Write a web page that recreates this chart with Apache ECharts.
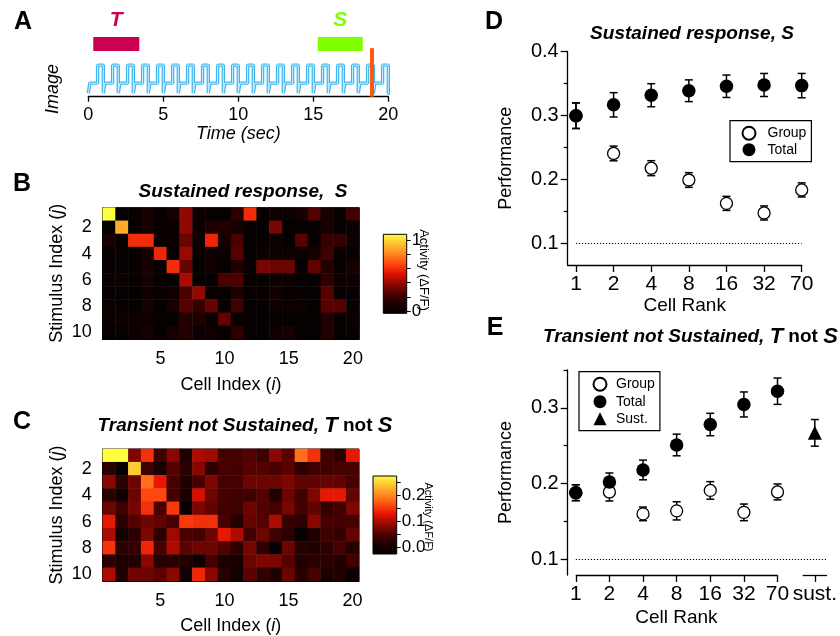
<!DOCTYPE html>
<html>
<head>
<meta charset="utf-8">
<title>Stimulus responses</title>
<script src="https://cdn.jsdelivr.net/npm/echarts@6/dist/echarts.min.js"></script>
<style>
  html, body { margin: 0; background: #fff; }
  #chart { width: 840px; height: 636px; }
</style>
</head>
<body>
<div id="chart"></div>
<script>
const FONT = 'Liberation Sans, Arial, Helvetica, sans-serif';

// ---- panel A: stimulus protocol ----
const imageOnsets = [0, 1, 2, 3, 4, 5, 6, 7, 8, 9, 10, 11, 12, 13, 14, 15, 16, 17, 18, 19];
const stepOffsets = [0, 0.1, 0.62];
const stepLevels = [0.1, 0.39, 0.91];
const traceEnd = [20, 20.1];
const transientWin = [0.33, 3.4];
const sustainedWin = [15.3, 18.3];
const winBand = [1.32, 1.72];
const probeTime = 18.9;
const probeSpan = [0, 1.4];

// ---- panels B, C: response maps (rows = stimulus 1..10, cols = cell 1..20) ----
const cellIndex = ['1','2','3','4','5','6','7','8','9','10','11','12','13','14','15','16','17','18','19','20'];
const stimIndex = ['1','2','3','4','5','6','7','8','9','10'];
const sustainedMap = [
  [1.08,0,0,0.08,0,0.08,0.39,0.04,0,0,0.16,0.60,0,0.03,0.03,0.08,0.26,0.08,0,0.21],
  [0,0.89,0,0.08,0,0,0.39,0.04,0.13,0.13,0.08,0,0,0.34,0,0,0,0.08,0,0.03],
  [0.08,0,0.60,0.60,0,0.03,0.31,0.03,0.58,0.08,0.25,0,0,0.04,0,0.27,0,0.18,0.19,0.04],
  [0,0,0,0.08,0.58,0,0.40,0.03,0.03,0.03,0.27,0,0.03,0.03,0.03,0.03,0.08,0.21,0,0],
  [0,0,0,0.08,0,0.60,0.30,0,0.04,0,0.13,0,0.34,0.31,0.31,0,0.29,0.13,0,0.08],
  [0.03,0.03,0,0.08,0,0,0.43,0,0,0.25,0.25,0,0,0.04,0.04,0,0,0.16,0.04,0.04],
  [0,0,0,0.03,0,0.04,0.25,0.39,0,0,0.13,0,0,0.06,0,0,0,0.27,0,0],
  [0.03,0,0,0.08,0,0.09,0.27,0.18,0.30,0,0.21,0,0,0.04,0.03,0.03,0,0.27,0.27,0],
  [0.03,0.03,0.04,0.04,0,0,0.13,0.13,0,0.29,0,0,0,0,0,0,0,0.13,0,0.03],
  [0,0,0.03,0.08,0,0.08,0.13,0.04,0.04,0,0.16,0,0,0.04,0.08,0,0,0.13,0,0]
];
const transientMap = [
  [0.272,0.272,0.077,0.145,0.041,0.083,0.017,0.10,0.094,0.047,0.047,0.053,0.041,0.083,0.059,0.183,0.145,0.041,0.026,0.13],
  [0.026,-0.015,0.242,0.041,0.012,0.056,0.026,0.083,0.026,0.047,0.044,0.056,0.056,0.047,0.059,0.026,0.041,0.041,0.047,0.047],
  [0.083,0.026,0.068,0.183,0.13,0.047,0.017,0.047,0.077,0.047,0.047,0.068,0.068,0.068,0.077,0.062,0.062,0.065,0.062,0.047],
  [0.026,0.003,0.068,0.16,0.16,0.047,0.012,0.118,0.068,0.047,0.041,0.041,0.056,0.017,0.068,0.041,0.077,0.13,0.13,0.062],
  [0.068,0.041,0.074,0.145,0.047,0.151,-0.015,0.077,0.062,0.044,0.041,0.068,0.053,0.047,0.074,0.044,0.062,0.032,0.041,0.077],
  [0.13,0.026,0.056,0.068,0.062,0.047,0.151,0.145,0.145,0.047,0.017,0.065,0.056,0.10,0.032,0.026,0.083,0.047,0.044,0.047],
  [0.10,0.003,0.026,0.077,0.026,0.094,0.047,0.047,0.068,0.13,0.10,0.041,0.068,0.041,0.026,-0.015,0.017,0.041,0.032,0.062],
  [0.145,0.026,0.032,0.139,0.047,0.10,0.059,0.068,0.068,0.053,0.026,0.074,0.026,-0.015,0.068,0.022,0.017,0.026,0.047,0.022],
  [0.026,0.012,0.017,0.083,0.022,0.022,0.017,-0.006,0.047,0.012,0.012,0.068,0.077,0.077,0.056,0.017,0.026,0.026,0.017,0.041],
  [0.10,0.017,0.068,0.068,0.059,0.083,0.003,0.139,0.083,0.022,0.003,0.059,0.032,0.017,0.068,0.022,0.047,0.012,0.017,-0.006]
];
const sustainedRange = [-0.03, 1.08];
const transientRange = [-0.024, 0.272];
const sustainedBarTicks = [0, 0.2, 0.4, 0.6, 0.8, 1];
const sustainedBarLabels = [0, 1];
const transientBarTicks = [0, 0.05, 0.1, 0.15, 0.2, 0.25];
const transientBarLabels = [0, 0.1, 0.2];
const hotColors = ['#000000', '#1c0000', '#4a0000', '#900800', '#e01000', '#ff4810', '#ff8820', '#ffc030', '#ffff40'];

// ---- panels D, E: decoding performance vs cell rank ----
const rankLabels = ['1', '2', '4', '8', '16', '32', '70'];
const dGroupMean = [0.300, 0.241, 0.218, 0.1995, 0.163, 0.148, 0.184];
const dGroupErr  = [0.020, 0.0115, 0.0117, 0.0115, 0.011, 0.011, 0.011];
const dTotalMean = [0.300, 0.317, 0.332, 0.339, 0.346, 0.348, 0.347];
const dTotalErr  = [0.020, 0.019, 0.018, 0.017, 0.0175, 0.018, 0.019];
const eGroupMean = [0.188, 0.189, 0.160, 0.164, 0.191, 0.162, 0.189];
const eGroupErr  = [0.0105, 0.012, 0.009, 0.012, 0.0116, 0.011, 0.0105];
const eTotalMean = [0.188, 0.202, 0.218, 0.251, 0.278, 0.3045, 0.322];
const eTotalErr  = [0.0105, 0.012, 0.013, 0.0143, 0.0148, 0.0165, 0.0174];
const sustLabel = 'sust.';
const sustPos = [7.11];
const sustMean = [0.267];
const sustErr = [0.0176];
const chanceLevel = 0.1;
const dRange = [0.0667, 0.4];
const eRange = [0.0793, 0.35];
const dXRange = [-0.22, 6];
const eXRange = [-0.241, 7.475];
const eSustSegment = [6.75, 7.475];
const dMajor = [0.1, 0.2, 0.3, 0.4];
const dMinor = [0.15, 0.25, 0.35];
const eMajor = [0.1, 0.2, 0.3];
const eMinor = [0.15, 0.25, 0.35];

// ---- build series data ----
const traceData = [];
imageOnsets.forEach(t0 => stepOffsets.forEach((o, i) => traceData.push([t0 + o, stepLevels[i]])));
traceEnd.forEach(t => traceData.push([t, stepLevels[0]]));

const toCells = m => {
  const out = [];
  m.forEach((row, r) => row.forEach((v, c) => out.push([c, r, v])));
  return out;
};
const rankPos = rankLabels.map((_, i) => i);
const pts = (pos, mean) => mean.map((m, i) => [pos[i], m]);
const bars = (pos, mean, err) => mean.map((m, i) => [pos[i], m - err[i], m + err[i]]);
const hotStops = hotColors.map((c, i) => ({ offset: i / (hotColors.length - 1), color: c }));

const black = { color: '#000' };
const rankFmt = v => (v > 6.5 ? sustLabel : rankLabels[Math.round(v)]);

function errorBar(params, api) {
  const x = api.value(0);
  const hi = api.coord([x, api.value(2)]);
  const lo = api.coord([x, api.value(1)]);
  const w = 4;
  const st = { stroke: '#000', lineWidth: 1.5 };
  return {
    type: 'group',
    children: [
      { type: 'line', shape: { x1: hi[0], y1: hi[1], x2: lo[0], y2: lo[1] }, style: st },
      { type: 'line', shape: { x1: hi[0] - w, y1: hi[1], x2: hi[0] + w, y2: hi[1] }, style: st },
      { type: 'line', shape: { x1: lo[0] - w, y1: lo[1], x2: lo[0] + w, y2: lo[1] }, style: st }
    ]
  };
}

function colorBar(params, api) {
  const cs = params.coordSys;
  const top = api.coord([0.5, api.value(2)]);
  const bot = api.coord([0.5, api.value(1)]);
  return {
    type: 'rect',
    shape: { x: cs.x, y: top[1], width: cs.width, height: bot[1] - top[1] },
    style: { fill: new echarts.graphic.LinearGradient(0, 1, 0, 0, hotStops), stroke: '#000', lineWidth: 1 }
  };
}

const nameStyle = (size) => ({
  color: '#000', fontSize: size, fontFamily: FONT,
  rich: { i: { fontStyle: 'italic', fontSize: size, fontFamily: FONT, color: '#000' } }
});

function heatX(grid, gap) {
  return {
    gridIndex: grid, type: 'category', data: cellIndex,
    axisLine: { lineStyle: { color: '#000', width: 1 } },
    axisTick: { alignWithLabel: true, length: 5, interval: i => (i + 1) % 5 === 0, lineStyle: black },
    axisLabel: { interval: i => (i + 1) % 5 === 0, color: '#000', fontSize: 18, fontFamily: FONT, margin: 11 },
    splitLine: { show: false },
    name: 'Cell Index ({i|i})', nameLocation: 'middle', nameGap: gap, nameTextStyle: nameStyle(18)
  };
}
function heatY(grid) {
  return {
    gridIndex: grid, type: 'category', data: stimIndex, inverse: true,
    axisLine: { lineStyle: { color: '#000', width: 1 } },
    axisTick: { alignWithLabel: true, length: 5, interval: i => (i + 1) % 2 === 0, lineStyle: black },
    axisLabel: { interval: i => (i + 1) % 2 === 0, color: '#000', fontSize: 18, fontFamily: FONT, margin: 11 },
    splitLine: { show: false },
    name: 'Stimulus Index ({i|j})', nameLocation: 'middle', nameGap: 37, nameTextStyle: nameStyle(18)
  };
}
function barY(grid, range, ticks, labels, fmt) {
  return {
    gridIndex: grid, type: 'value', position: 'right', min: range[0], max: range[1],
    axisLine: { show: false, onZero: false },
    axisTick: { show: true, customValues: ticks, length: 4, lineStyle: black },
    axisLabel: { customValues: labels, formatter: fmt, color: '#000', fontSize: 17, fontFamily: FONT, margin: 5 },
    splitLine: { show: false }
  };
}
function perfY(grid, range, major, gap) {
  return {
    gridIndex: grid, type: 'value', position: 'left', min: range[0], max: range[1],
    axisLine: { show: true, onZero: false, lineStyle: { color: '#000', width: 1.3 } },
    axisTick: { show: true, customValues: major, length: 7, lineStyle: { color: '#000', width: 1.3 } },
    axisLabel: { customValues: major, formatter: v => v.toFixed(1), color: '#000', fontSize: 20, fontFamily: FONT, margin: 9 },
    splitLine: { show: false },
    name: 'Performance', nameLocation: 'middle', nameGap: gap, nameTextStyle: nameStyle(18)
  };
}
function minorY(grid, range, minor) {
  return {
    gridIndex: grid, type: 'value', position: 'left', min: range[0], max: range[1],
    axisLine: { show: false, onZero: false }, axisLabel: { show: false }, splitLine: { show: false },
    axisTick: { show: true, customValues: minor, length: 4, lineStyle: { color: '#000', width: 1.3 } }
  };
}

const legendBase = {
  orient: 'vertical', itemWidth: 13, itemHeight: 13, selectedMode: false,
  borderColor: '#000', borderWidth: 1.2, backgroundColor: '#fff', borderRadius: 0
};

const option = {
  animation: false,
  textStyle: { fontFamily: FONT },
  grid: [
    { left: 88.3, top: 10, width: 300, height: 86.7 },
    { left: 102.7, top: 207.7, width: 256.6, height: 131.3, show: true, borderColor: '#000', borderWidth: 1 },
    { left: 383.3, top: 234.3, width: 23.4, height: 79 },
    { left: 102.7, top: 449, width: 256.3, height: 132, show: true, borderColor: '#000', borderWidth: 1 },
    { left: 373, top: 476, width: 23.7, height: 78 },
    { left: 567.7, top: 51.7, width: 234, height: 213.3 },
    { left: 567.7, top: 370, width: 265.3, height: 205 }
  ],
  xAxis: [
    {
      gridIndex: 0, type: 'value', min: 0, max: 20, interval: 5,
      axisLine: { lineStyle: { color: '#000', width: 1.3 } },
      axisTick: { length: 5, lineStyle: { color: '#000', width: 1.3 } },
      axisLabel: { color: '#000', fontSize: 18, fontFamily: FONT, margin: 9 },
      splitLine: { show: false },
      name: 'Time (sec)', nameLocation: 'middle', nameGap: 26,
      nameTextStyle: { color: '#000', fontSize: 18, fontStyle: 'italic', fontFamily: FONT }
    },
    heatX(1, 37),
    { gridIndex: 2, type: 'value', min: 0, max: 1, show: false },
    heatX(3, 36),
    { gridIndex: 4, type: 'value', min: 0, max: 1, show: false },
    {
      gridIndex: 5, type: 'value', min: dXRange[0], max: dXRange[1],
      axisLine: { show: true, onZero: false, lineStyle: { color: '#000', width: 1.3 } },
      axisTick: { show: true, customValues: rankPos, length: 7, lineStyle: { color: '#000', width: 1.3 } },
      axisLabel: { customValues: rankPos, formatter: rankFmt, color: '#000', fontSize: 21, fontFamily: FONT, margin: 9 },
      splitLine: { show: false },
      name: 'Cell Rank', nameLocation: 'middle', nameGap: 31, nameTextStyle: nameStyle(19)
    },
    {
      gridIndex: 6, type: 'value', min: eXRange[0], max: eXRange[1],
      axisLine: { show: false, onZero: false },
      axisTick: { show: true, customValues: rankPos.concat(sustPos), length: 7, lineStyle: { color: '#000', width: 1.3 } },
      axisLabel: { customValues: rankPos.concat(sustPos), formatter: rankFmt, color: '#000', fontSize: 21, fontFamily: FONT, margin: 9 },
      splitLine: { show: false },
      name: 'Cell Rank', nameLocation: 'middle', nameGap: 33,
      nameTextStyle: Object.assign(nameStyle(19), { padding: [0, 42, 0, 0] })
    }
  ],
  yAxis: [
    { gridIndex: 0, type: 'value', min: 0, max: 2.5, show: false },
    heatY(1),
    barY(2, sustainedRange, sustainedBarTicks, sustainedBarLabels, v => String(Math.round(v))),
    heatY(3),
    barY(4, transientRange, transientBarTicks, transientBarLabels, v => v.toFixed(1)),
    perfY(5, dRange, dMajor, 53),
    minorY(5, dRange, dMinor),
    perfY(6, eRange, eMajor, 53),
    minorY(6, eRange, eMinor)
  ],
  visualMap: [
    { type: 'continuous', show: false, seriesIndex: 2, dimension: 2, min: sustainedRange[0], max: sustainedRange[1], inRange: { color: hotColors } },
    { type: 'continuous', show: false, seriesIndex: 4, dimension: 2, min: transientRange[0], max: transientRange[1], inRange: { color: hotColors } }
  ],
  legend: [
    Object.assign({}, legendBase, {
      left: 730, top: 120.7, padding: [5, 5, 5, 11.5], itemGap: 2,
      textStyle: { fontSize: 14, fontFamily: FONT, color: '#000', padding: [0, 0, 0, 7] },
      data: ['Group', 'Total']
    }),
    Object.assign({}, legendBase, {
      left: 579, top: 371.7, padding: [5, 5, 5, 13.5], itemGap: 3,
      textStyle: { fontSize: 14, fontFamily: FONT, color: '#000', padding: [0, 0, 0, 4.5] },
      data: ['Group', 'Total', 'Sust.']
    })
  ],
  series: [
    {
      type: 'line', xAxisIndex: 0, yAxisIndex: 0, data: traceData, step: 'end', symbol: 'none', clip: false,
      lineStyle: { color: '#3cb6f0', width: 3.4 },
      markArea: {
        silent: true,
        label: { show: true, position: 'top', distance: 6, fontSize: 21, fontWeight: 'bold', fontStyle: 'italic', fontFamily: FONT },
        data: [
          [{ name: 'T', coord: [transientWin[0], winBand[0]], itemStyle: { color: '#cc0052' }, label: { color: '#cc0052' } },
           { coord: [transientWin[1], winBand[1]] }],
          [{ name: 'S', coord: [sustainedWin[0], winBand[0]], itemStyle: { color: '#80ff00' }, label: { color: '#80ff00' } },
           { coord: [sustainedWin[1], winBand[1]] }]
        ]
      }
    },
    {
      type: 'line', xAxisIndex: 0, yAxisIndex: 0, data: traceData, step: 'end', symbol: 'none', clip: false,
      lineStyle: { color: '#d2f0fd', width: 1 },
      markLine: {
        silent: true, symbol: ['none', 'none'], label: { show: false },
        lineStyle: { color: '#ff5a0a', width: 4, type: 'solid' },
        data: [[{ coord: [probeTime, probeSpan[0]] }, { coord: [probeTime, probeSpan[1]] }]]
      }
    },
    {
      type: 'heatmap', xAxisIndex: 1, yAxisIndex: 1, data: toCells(sustainedMap),
      itemStyle: { borderWidth: 0 }, emphasis: { disabled: true }, progressive: 0
    },
    { type: 'custom', xAxisIndex: 2, yAxisIndex: 2, data: [[0.5, sustainedRange[0], sustainedRange[1]]], renderItem: colorBar, silent: true },
    {
      type: 'heatmap', xAxisIndex: 3, yAxisIndex: 3, data: toCells(transientMap),
      itemStyle: { borderWidth: 0 }, emphasis: { disabled: true }, progressive: 0
    },
    { type: 'custom', xAxisIndex: 4, yAxisIndex: 4, data: [[0.5, transientRange[0], transientRange[1]]], renderItem: colorBar, silent: true },

    // D
    { type: 'custom', xAxisIndex: 5, yAxisIndex: 5, data: bars(rankPos, dGroupMean, dGroupErr), renderItem: errorBar, silent: true, z: 2 },
    { type: 'custom', xAxisIndex: 5, yAxisIndex: 5, data: bars(rankPos, dTotalMean, dTotalErr), renderItem: errorBar, silent: true, z: 2 },
    {
      name: 'Group', type: 'scatter', xAxisIndex: 5, yAxisIndex: 5, data: pts(rankPos, dGroupMean),
      symbol: 'circle', symbolSize: 12, z: 3,
      itemStyle: { color: '#fff', borderColor: '#000', borderWidth: 1.3, opacity: 1 },
      markLine: {
        silent: true, symbol: ['none', 'none'], label: { show: false },
        lineStyle: { color: '#000', width: 1, type: [1.2, 1.8] },
        data: [[{ coord: [rankPos[0], chanceLevel] }, { coord: [rankPos[rankPos.length - 1], chanceLevel] }]]
      }
    },
    {
      name: 'Total', type: 'scatter', xAxisIndex: 5, yAxisIndex: 5, data: pts(rankPos, dTotalMean),
      symbol: 'circle', symbolSize: 13.5, z: 4, itemStyle: { color: '#000', opacity: 1 }
    },

    // E
    { type: 'custom', xAxisIndex: 6, yAxisIndex: 7, data: bars(rankPos, eGroupMean, eGroupErr), renderItem: errorBar, silent: true, z: 2 },
    { type: 'custom', xAxisIndex: 6, yAxisIndex: 7, data: bars(rankPos, eTotalMean, eTotalErr), renderItem: errorBar, silent: true, z: 2 },
    { type: 'custom', xAxisIndex: 6, yAxisIndex: 7, data: bars(sustPos, sustMean, sustErr), renderItem: errorBar, silent: true, z: 2 },
    {
      name: 'Group', type: 'scatter', xAxisIndex: 6, yAxisIndex: 7, data: pts(rankPos, eGroupMean),
      symbol: 'circle', symbolSize: 12, z: 3,
      itemStyle: { color: '#fff', borderColor: '#000', borderWidth: 1.3, opacity: 1 },
      markLine: {
        silent: true, symbol: ['none', 'none'], label: { show: false },
        lineStyle: { color: '#000', width: 1.3, type: 'solid' },
        data: [
          [{ coord: [rankPos[0], eRange[0]] }, { coord: [rankPos[rankPos.length - 1], eRange[0]] }],
          [{ coord: [eSustSegment[0], eRange[0]] }, { coord: [eSustSegment[1], eRange[0]] }],
          [{ coord: [rankPos[0], chanceLevel], lineStyle: { width: 1, type: [1.2, 1.8] } }, { coord: [eXRange[1], chanceLevel] }]
        ]
      }
    },
    {
      name: 'Total', type: 'scatter', xAxisIndex: 6, yAxisIndex: 7, data: pts(rankPos, eTotalMean),
      symbol: 'circle', symbolSize: 13.5, z: 4, itemStyle: { color: '#000', opacity: 1 }
    },
    {
      name: 'Sust.', type: 'scatter', xAxisIndex: 6, yAxisIndex: 7, data: pts(sustPos, sustMean),
      symbol: 'triangle', symbolSize: 14, z: 4, itemStyle: { color: '#000', opacity: 1 }
    }
  ],
  graphic: [
    { type: 'text', x: 23, y: 22, style: { text: 'A', font: 'bold 25px ' + FONT, fill: '#000', align: 'center', verticalAlign: 'middle' } },
    { type: 'text', x: 22, y: 184, style: { text: 'B', font: 'bold 25px ' + FONT, fill: '#000', align: 'center', verticalAlign: 'middle' } },
    { type: 'text', x: 22, y: 422, style: { text: 'C', font: 'bold 25px ' + FONT, fill: '#000', align: 'center', verticalAlign: 'middle' } },
    { type: 'text', x: 494, y: 22, style: { text: 'D', font: 'bold 25px ' + FONT, fill: '#000', align: 'center', verticalAlign: 'middle' } },
    { type: 'text', x: 495, y: 328, style: { text: 'E', font: 'bold 25px ' + FONT, fill: '#000', align: 'center', verticalAlign: 'middle' } },
    { type: 'text', x: 53, y: 89, rotation: Math.PI / 2, style: { text: 'Image', font: 'italic 18px ' + FONT, fill: '#000', align: 'center', verticalAlign: 'middle' } },
    { type: 'text', x: 424, y: 270, rotation: -Math.PI / 2, style: { text: 'Activity (ΔF/F)', font: '13px ' + FONT, fill: '#000', align: 'center', verticalAlign: 'middle' } },
    { type: 'text', x: 428, y: 517, rotation: -Math.PI / 2, style: { text: 'Activity (ΔF/F)', font: '11px ' + FONT, fill: '#000', align: 'center', verticalAlign: 'middle' } },
    {
      type: 'text', x: 243, y: 192,
      style: {
        text: '{it|Sustained response,  S}', align: 'center', verticalAlign: 'middle',
        rich: { it: { fontSize: 19, fontWeight: 'bold', fontStyle: 'italic', fontFamily: FONT, fill: '#000' } }
      }
    },
    {
      type: 'text', x: 245, y: 426,
      style: {
        text: '{it|Transient not Sustained, }{big|T}{n| not }{big|S}', align: 'center', verticalAlign: 'middle',
        rich: {
          it: { fontSize: 19, fontWeight: 'bold', fontStyle: 'italic', fontFamily: FONT, fill: '#000' },
          big: { fontSize: 22, fontWeight: 'bold', fontStyle: 'italic', fontFamily: FONT, fill: '#000' },
          n: { fontSize: 19, fontWeight: 'bold', fontFamily: FONT, fill: '#000' }
        }
      }
    },
    {
      type: 'text', x: 692, y: 34,
      style: {
        text: '{it|Sustained response, S}', align: 'center', verticalAlign: 'middle',
        rich: { it: { fontSize: 19, fontWeight: 'bold', fontStyle: 'italic', fontFamily: FONT, fill: '#000' } }
      }
    },
    {
      type: 'text', x: 543, y: 337,
      style: {
        text: '{it|Transient not Sustained, }{big|T}{n| not }{big|S}', align: 'left', verticalAlign: 'middle',
        rich: {
          it: { fontSize: 19, fontWeight: 'bold', fontStyle: 'italic', fontFamily: FONT, fill: '#000' },
          big: { fontSize: 22, fontWeight: 'bold', fontStyle: 'italic', fontFamily: FONT, fill: '#000' },
          n: { fontSize: 19, fontWeight: 'bold', fontFamily: FONT, fill: '#000' }
        }
      }
    }
  ]
};

const chart = echarts.init(document.getElementById('chart'), null, { renderer: 'canvas' });
chart.setOption(option);
</script>
</body>
</html>
